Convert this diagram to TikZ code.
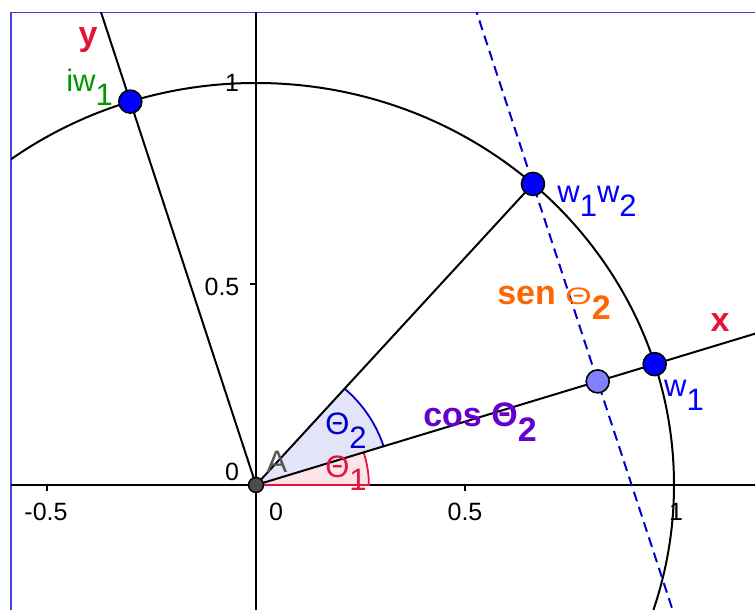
\documentclass[tikz,border=0pt]{standalone}
\usepackage{fontspec}
\setmainfont{Liberation Sans}
\usepackage{xcolor}
\usepackage{graphicx}
\usepackage{tikz}
\usetikzlibrary{calc}

\definecolor{ggred}{RGB}{230,20,60}
\definecolor{gggreen}{RGB}{0,153,0}
\definecolor{ggorange}{RGB}{255,102,0}
\definecolor{ggpurple}{RGB}{102,0,204}
\definecolor{ggblue}{RGB}{0,0,255}
\definecolor{ggdark}{RGB}{0,0,204}
\definecolor{ggframe}{RGB}{68,68,221}
\definecolor{pinkfill}{RGB}{253,228,234}
\definecolor{lavfill}{RGB}{228,228,248}
\definecolor{projblue}{RGB}{128,128,255}
\definecolor{graytext}{RGB}{85,85,85}

\newcommand{\lowsub}[1]{\raisebox{-0.42em}{#1}}

\begin{document}
\begin{tikzpicture}[x=418pt, y=402pt,
  axis/.style={line width=2pt, black},
  curve/.style={line width=2pt, black},
  dashline/.style={line width=2pt, ggdark, dash pattern=on 10pt off 6pt},
  pt/.style={circle, draw=black, line width=1.6pt, fill=ggblue, inner sep=0pt, minimum size=23pt},
  lbl/.style={font=\fontsize{31}{36}\selectfont, inner sep=0pt, anchor=base},
  blbl/.style={font=\fontsize{34}{40}\selectfont\bfseries, inner sep=0pt, anchor=base},
  ticklbl/.style={font=\fontsize{25}{30}\selectfont, inner sep=0pt, anchor=base}]

  \useasboundingbox (-0.61244,-0.31095) rectangle (1.19378,1.20647);

  % Points on the unit circle
  \coordinate (O) at (0,0);
  \coordinate (w1pos) at (17.5:1);
  \coordinate (w12pos) at (48.5:1);
  \coordinate (iw1pos) at (107.5:1);
  \coordinate (Ppos) at (17.5:0.85717);
  \coordinate (xend) at (17.5:1.5);
  \coordinate (yend) at (107.5:1.5);
  \coordinate (dtop) at ($(Ppos)+(107.5:1.1)$);
  \coordinate (dbot) at ($(Ppos)+(287.5:0.8)$);
  \coordinate (hleft) at (-0.7,0);
  \coordinate (hright) at (1.3,0);
  \coordinate (vbot) at (0,-0.4);
  \coordinate (vtop) at (0,1.3);

  % Frame
  \draw[ggframe, line width=1.5pt] (-0.5861,-0.5) rectangle (1.4,1.1749);

  \begin{scope}
    \clip (-0.5861,-0.5) rectangle (1.4,1.1749);

    % Angle sectors
    \fill[pinkfill] (O) -- (0.27,0) arc[start angle=0, end angle=17.5, radius=0.27] -- cycle;
    \fill[lavfill] (O) -- (17.5:0.32) arc[start angle=17.5, end angle=48.5, radius=0.32] -- cycle;

    % Axes and ticks
    \draw[axis] (hleft) -- (hright);
    \draw[axis] (vbot) -- (vtop);
    \draw[line width=1.4pt] (-0.5,0) -- (-0.5,-0.015) (0.5,0) -- (0.5,-0.015) (1,0) -- (1,-0.015)
      (0,0.5) -- (-0.0144,0.5) (0,1) -- (-0.0144,1);

    % Unit circle
    \draw[curve] (O) circle[radius=1];

    % Angle arcs
    \draw[ggred, line width=1.8pt] (O) -- (0.27,0) arc[start angle=0, end angle=17.5, radius=0.27];
    \draw[ggdark, line width=1.8pt] (17.5:0.32) arc[start angle=17.5, end angle=48.5, radius=0.32];

    % Rotated axes and w1w2
    \draw[curve] (O) -- (xend);
    \draw[curve] (O) -- (yend);
    \draw[curve] (O) -- (w12pos);

    % Projection line
    \draw[dashline] (dtop) -- (dbot);
  \end{scope}

  % Points
  \node[pt] (w1) at (w1pos) {};
  \node[pt] (w12) at (w12pos) {};
  \node[pt] (iw1) at (iw1pos) {};
  \node[pt, fill=projblue] (P) at (Ppos) {};
  \node[circle, draw=black, line width=1.4pt, fill=black!70, inner sep=0pt, minimum size=15pt] (A) at (O) {};

  % Tick labels
  \node[ticklbl] (tkxm) at (-0.5024,-0.0871) {-0.5};
  \node[ticklbl] (tkx0) at (0.0478,-0.0871) {0};
  \node[ticklbl] (tkxh) at (0.5,-0.0871) {0.5};
  \node[ticklbl] (tkx1) at (1.0048,-0.0871) {1};
  \node[ticklbl] (tky0) at (-0.0574,0.0124) {0};
  \node[ticklbl] (tkyh) at (-0.0813,0.4726) {0.5};
  \node[ticklbl] (tky1) at (-0.0574,0.9776) {1};

  % Labels
  \node[blbl, ggred] (ylbl) at (-0.4019,1.0945) {y};
  \node[blbl, ggred] (xlbl) at (1.1100,0.3806) {x};
  \node[lbl, gggreen] (iw1lbl) at (-0.3983,0.9776) {iw\lowsub{1}};
  \node[lbl, ggblue] (w12lbl) at (0.8158,0.7015) {w\lowsub{1}w\lowsub{2}};
  \node[lbl, ggblue] (w1lbl) at (1.0239,0.2189) {w\lowsub{1}};
  \node[lbl, graytext] (Albl) at (0.0502,0.0323) {A};
  \node[lbl, ggred] (th1) at (0.2153,0.0199) {Θ\lowsub{1}};
  \node[lbl, ggdark] (th2) at (0.2153,0.1244) {Θ\lowsub{2}};
  \node[blbl, ggpurple] (coslbl) at (0.5359,0.1443) {cos Θ\lowsub{2}};
  \node[blbl, ggorange] (senlbl) at (0.7129,0.4478) {sen \scalebox{1}[0.7]{\mdseries Θ}\lowsub{2}};

\end{tikzpicture}
\end{document}
